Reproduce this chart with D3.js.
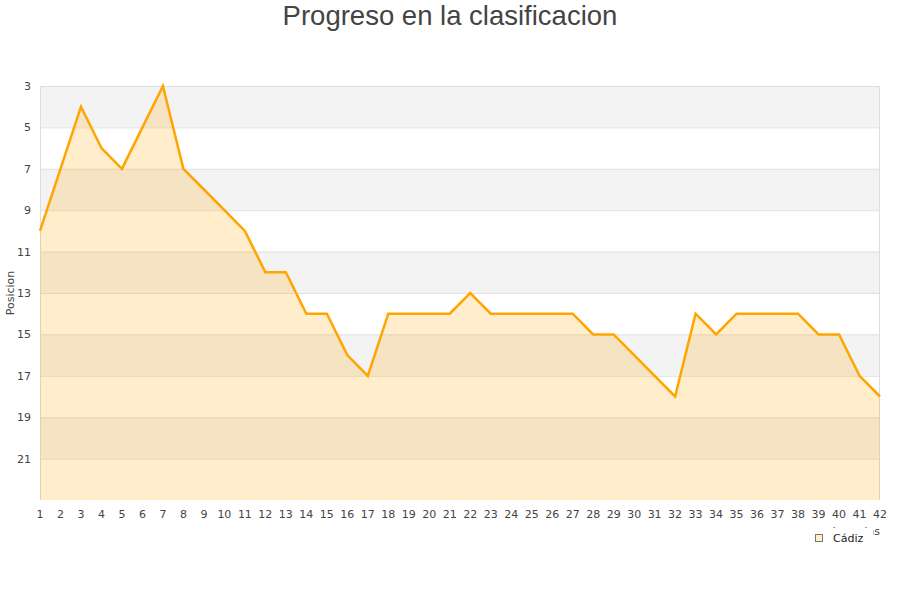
<!DOCTYPE html>
<html><head><meta charset="utf-8">
<script src="https://cdn.jsdelivr.net/npm/d3@7"></script>
<style>body{margin:0;background:#fff;}svg{display:block;}</style>
</head><body>
<script>
const jornadas = d3.range(1, 43);
const posiciones = [10,7,4,6,7,5,3,7,8,9,10,12,12,14,14,16,17,14,14,14,14,13,14,14,14,14,14,15,15,16,17,18,14,15,14,14,14,14,15,15,17,18];
const yTicks = [3,5,7,9,11,13,15,17,19,21];
const seriesName = "Cádiz";
const title = "Progreso en la clasificacion";
const yTitle = "Posicion";
const xTitle = "Jornadas";

const W = 900, H = 600;
const svg = d3.select("body").append("svg").attr("width", W).attr("height", H);

const x = d3.scaleLinear().domain([1, 42]).range([40, 880]);
const y = d3.scaleLinear().domain([3, 23]).range([86, 500]);

// bands
const bands = d3.range(3, 23, 2);
svg.append("g").selectAll("rect").data(bands).join("rect")
  .attr("x", 40).attr("width", 840)
  .attr("y", d => y(d)).attr("height", d => y(d + 2) - y(d))
  .attr("fill", (d, i) => i % 2 === 0 ? "#f3f3f3" : "#ffffff");

// grid lines
svg.append("g").selectAll("line").data(yTicks).join("line")
  .attr("x1", 40).attr("x2", 880)
  .attr("y1", d => y(d) + 0.5).attr("y2", d => y(d) + 0.5)
  .attr("stroke", "#e0e0e0").attr("stroke-width", 1);

// border
svg.append("path")
  .attr("d", `M40.5,500 V86.5 H879.5 V500`)
  .attr("fill", "none").attr("stroke", "#dddddd");

const data = jornadas.map((j, i) => ({j, p: posiciones[i]}));
const area = d3.area().x(d => x(d.j)).y0(y(23)).y1(d => y(d.p));
svg.append("path").datum(data).attr("d", area)
  .attr("fill", "orange").attr("fill-opacity", 0.2);
const line = d3.line().x(d => x(d.j)).y(d => y(d.p));
svg.append("path").datum(data).attr("d", line)
  .attr("fill", "none").attr("stroke", "#ffa500").attr("stroke-width", 2.5)
  .attr("stroke-linejoin", "miter");

// y axis labels
const font = "DejaVu Sans, sans-serif";
svg.append("g").selectAll("text").data(yTicks).join("text")
  .attr("x", 31).attr("y", d => y(d) + 4)
  .attr("text-anchor", "end").attr("font-family", font).attr("font-size", 11)
  .attr("fill", "#444").text(d => d);

// x axis labels
svg.append("g").selectAll("text").data(jornadas).join("text")
  .attr("x", d => x(d)).attr("y", 518)
  .attr("text-anchor", "middle").attr("font-family", font).attr("font-size", 11)
  .attr("fill", "#444").text(d => d);

// x title (mostly hidden behind legend, as in the reference)
svg.append("text").attr("x", 880).attr("y", 535).attr("text-anchor", "end")
  .attr("font-family", font).attr("font-size", 11).attr("fill", "#444").text(xTitle);

// y title
svg.append("text").attr("transform", "translate(14,293) rotate(-90)")
  .attr("text-anchor", "middle").attr("font-family", font).attr("font-size", 11)
  .attr("fill", "#444").text(yTitle);

// title
svg.append("text").attr("x", 450).attr("y", 25).attr("text-anchor", "middle")
  .attr("font-family", "Liberation Sans, Arial, sans-serif").attr("font-size", 27.5)
  .attr("fill", "#444").text(title);

// legend
svg.append("rect").attr("x", 805).attr("y", 528).attr("width", 68).attr("height", 24)
  .attr("fill", "#ffffff");
svg.append("rect").attr("x", 815.5).attr("y", 534.5).attr("width", 7).attr("height", 7)
  .attr("fill", "#ffedcc").attr("stroke", "#777");
svg.append("text").attr("x", 833).attr("y", 542).attr("font-family", font).attr("font-size", 11)
  .attr("fill", "#222").text(seriesName);
</script>
</body></html>
